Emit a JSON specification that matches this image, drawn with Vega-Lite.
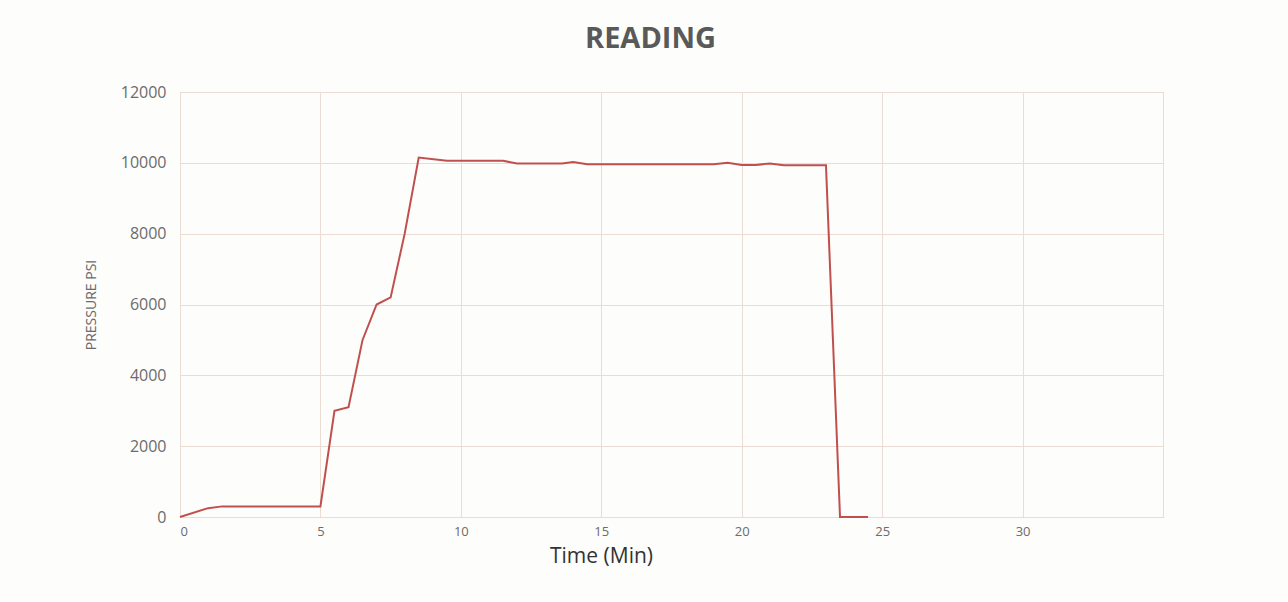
{
  "$schema": "https://vega.github.io/schema/vega-lite/v6.json",
  "width": 983,
  "height": 425,
  "autosize": {"type": "none"},
  "padding": {"left": 180, "top": 92, "right": 125, "bottom": 85},
  "background": "#fdfdfc",
  "title": {
    "text": "READING",
    "font": "Open Sans",
    "fontSize": 29,
    "fontWeight": "bold",
    "color": "#595959",
    "anchor": "middle",
    "offset": 30,
    "dx": -21
  },
  "config": {
    "view": {"stroke": "#eadcd2", "strokeWidth": 1},
    "axis": {
      "gridColor": "#eadcd2",
      "gridWidth": 1,
      "domainColor": "#eadcd2",
      "ticks": false,
      "labelFont": "Open Sans",
      "labelColor": "#6b6b6b",
      "titleFont": "Open Sans"
    }
  },
  "data": {
    "values": [
      {"time": 0, "pressure": 0},
      {"time": 1, "pressure": 250},
      {"time": 1.5, "pressure": 300},
      {"time": 5, "pressure": 300},
      {"time": 5.5, "pressure": 3000},
      {"time": 6, "pressure": 3100},
      {"time": 6.5, "pressure": 5000},
      {"time": 7, "pressure": 6000},
      {"time": 7.5, "pressure": 6200},
      {"time": 8, "pressure": 8000},
      {"time": 8.5, "pressure": 10150},
      {"time": 9.5, "pressure": 10060},
      {"time": 11.5, "pressure": 10060},
      {"time": 12, "pressure": 9980},
      {"time": 13.6, "pressure": 9980},
      {"time": 14, "pressure": 10020},
      {"time": 14.5, "pressure": 9960},
      {"time": 19, "pressure": 9960},
      {"time": 19.5, "pressure": 10000},
      {"time": 20, "pressure": 9940},
      {"time": 20.5, "pressure": 9940},
      {"time": 21, "pressure": 9980},
      {"time": 21.5, "pressure": 9930},
      {"time": 23, "pressure": 9930},
      {"time": 23.5, "pressure": 0},
      {"time": 24.5, "pressure": 0}
    ]
  },
  "mark": {"type": "line", "color": "#c0504d", "strokeWidth": 2, "clip": false},
  "encoding": {
    "x": {
      "field": "time",
      "type": "quantitative",
      "scale": {"domain": [0, 35], "nice": false},
      "axis": {
        "values": [0, 5, 10, 15, 20, 25, 30, 35],
        "labelExpr": "datum.value == 35 ? '' : datum.label",
        "labelFontSize": 13,
        "labelPadding": 8,
        "title": "Time (Min)",
        "titleFontSize": 21,
        "titleFontWeight": "normal",
        "titleColor": "#333333",
        "titleX": 421,
        "titleAlign": "center",
        "titlePadding": 7
      }
    },
    "y": {
      "field": "pressure",
      "type": "quantitative",
      "scale": {"domain": [0, 12000], "nice": false},
      "axis": {
        "values": [0, 2000, 4000, 6000, 8000, 10000, 12000],
        "format": "d",
        "labelFontSize": 16,
        "labelPadding": 14,
        "title": "PRESSURE PSI",
        "titleFontSize": 14,
        "titleFontWeight": "normal",
        "titleColor": "#6b6b6b",
        "titlePadding": 22
      }
    }
  }
}
